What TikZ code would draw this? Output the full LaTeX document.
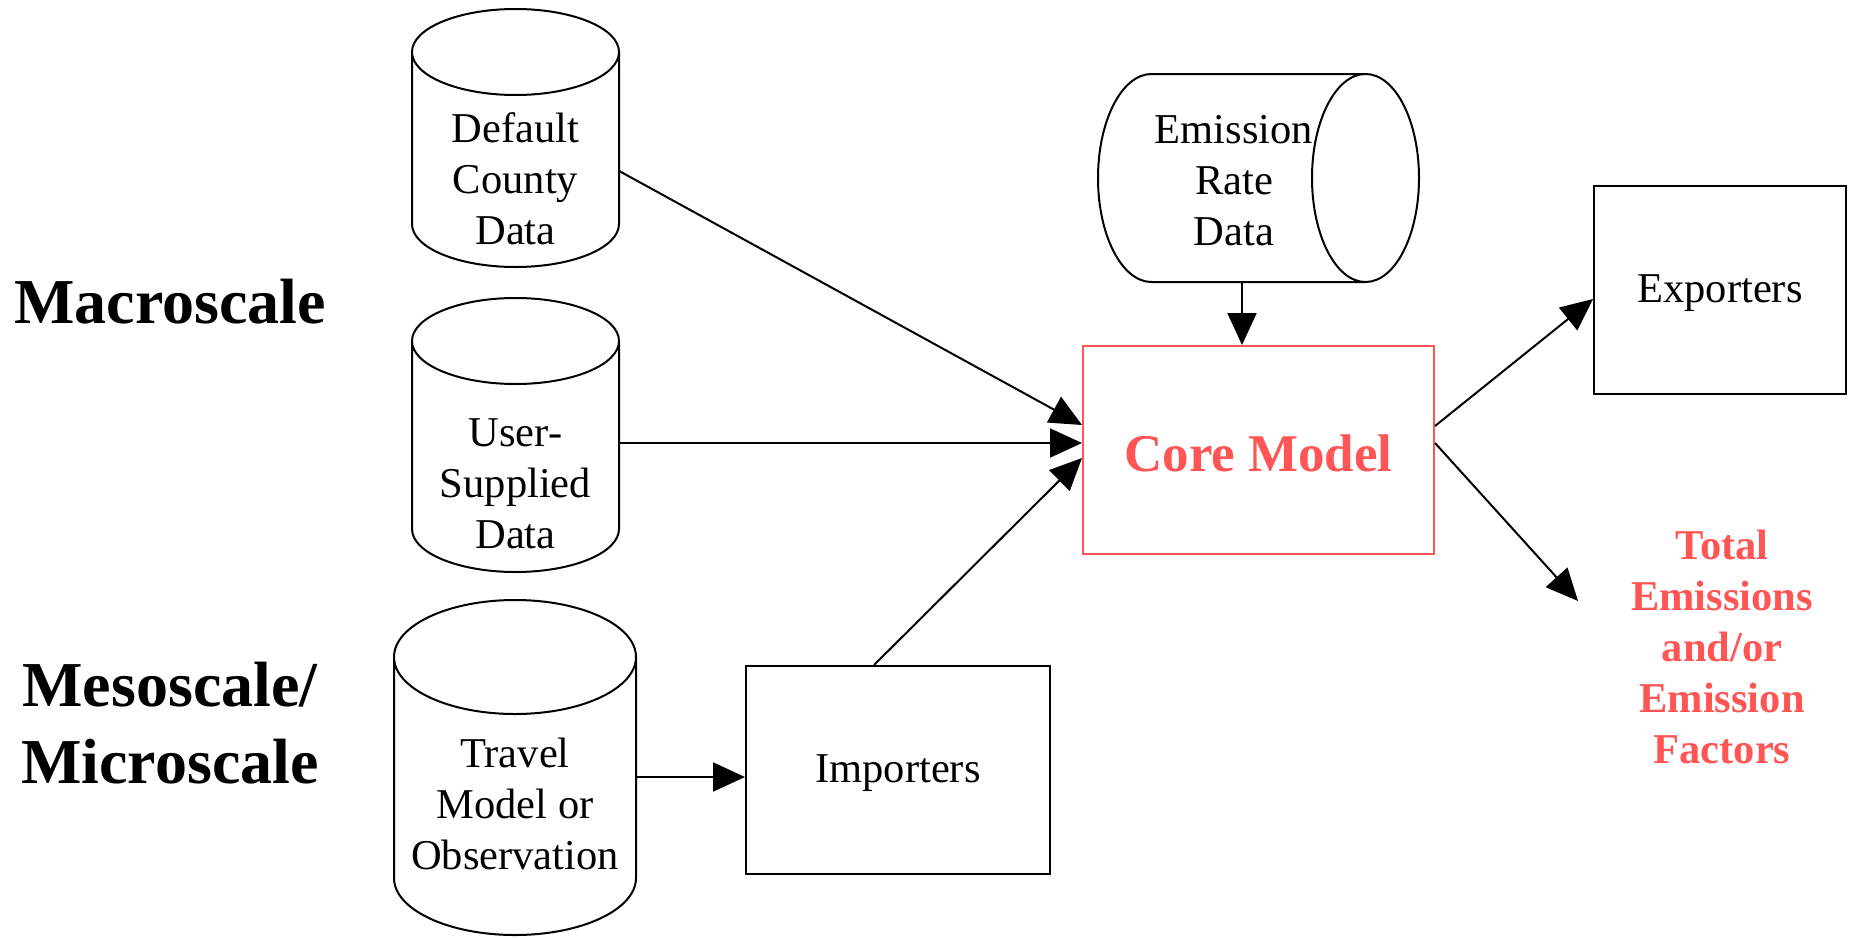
\documentclass[tikz,border=0pt]{standalone}
\usepackage{fontspec}
\setmainfont{Liberation Serif}
\usetikzlibrary{arrows.meta,calc}
\definecolor{corered}{RGB}{255,85,85}

% vertical data store: left, top, right, bottom, radius of the end ellipses
\newcommand\vcyl[5]{%
  \pgfmathsetmacro\cylcx{(#1+#3)/2}%
  \pgfmathsetmacro\cylrx{(#3-#1)/2}%
  \draw[outline] (\cylcx,{#2+#5}) ellipse [x radius=\cylrx pt, y radius=#5pt]
    (#1,{#2+#5}) -- (#1,{#4-#5})
    arc[start angle=180, end angle=360, x radius=\cylrx pt, y radius=#5pt]
    -- (#3,{#2+#5});}
% horizontal data store: left, top, right, bottom, radius of the end ellipses
\newcommand\hcyl[5]{%
  \pgfmathsetmacro\cylcy{(#2+#4)/2}%
  \pgfmathsetmacro\cylry{(#4-#2)/2}%
  \draw[outline] ({#3-#5},\cylcy) ellipse [x radius=#5pt, y radius=\cylry pt]
    ({#3-#5},#2) -- ({#1+#5},#2)
    arc[start angle=90, end angle=270, x radius=#5pt, y radius=\cylry pt]
    -- ({#3-#5},#4);}
% lower a label without changing its box
\newcommand\lowered[2]{\raisebox{-#1}[\height][\depth]{#2}}

\tikzset{
  outline/.style={line width=2pt, draw=black},
  slot/.style={draw=none, rectangle, inner sep=0pt},
  procbox/.style={draw, line width=2pt, rectangle, inner sep=0pt,
    minimum width=#1, minimum height=208pt, align=center,
    font=\fontsize{42.5}{51}\selectfont},
  arr/.style={line width=2pt, -{Triangle[length=32pt,width=29pt]}},
  lbl/.style={align=center, font=\fontsize{42.5}{51}\selectfont},
  scalelbl/.style={align=center, font=\bfseries\fontsize{64}{77}\selectfont},
}

\begin{document}
\begin{tikzpicture}[x=1pt,y=-1pt]
\useasboundingbox (0,0) rectangle (1852,937);

% scale labels
\node[scalelbl] (macro) at (170,302) {Macroscale};
\node[scalelbl] (meso) at (170,723) {Mesoscale/\\Microscale};

% data stores
\node[slot, minimum width=207pt, minimum height=258pt] (dcd) at (515.5,138) {};
\vcyl{412}{9}{619}{267}{43}
\node[lbl] (dcdt) at (515.5,179) {Default\\County\\Data};

\node[slot, minimum width=207pt, minimum height=274pt] (usd) at (515.5,435) {};
\vcyl{412}{298}{619}{572}{43}
\node[lbl] (usdt) at (515.5,484) {User-\\Supplied\\Data};

\node[slot, minimum width=242pt, minimum height=335pt] (tmo) at (515,767.5) {};
\vcyl{394}{600}{636}{935}{57}
\node[lbl] (tmot) at (515,804) {Travel\\Model or\\Observation};

\node[slot, minimum width=321pt, minimum height=208pt] (erd) at (1258.5,178) {};
\hcyl{1098}{74}{1419}{282}{53.5}
\node[lbl] (erdt) at (1234,180.5) {Emission\\Rate\\Data};

% processing boxes
\node[procbox=351pt, draw=corered, text=corered,
      font=\bfseries\fontsize{53}{60}\selectfont] (core) at (1258.5,450)
      {\lowered{3pt}{Core Model}};
\node[procbox=304pt] (imp) at (898,770) {\lowered{3.5pt}{Importers}};
\node[procbox=252pt] (exp) at (1720,290) {\lowered{3.5pt}{Exporters}};

% outputs
\node[align=center, text=corered, font=\bfseries\fontsize{42.5}{51}\selectfont]
  (tot) at (1722,647) {Total\\Emissions\\and/or\\Emission\\Factors};
\coordinate (totin) at (1578,601);

% connectors
\draw[arr] ([yshift=-33pt]dcd.east) -- ([yshift=25pt]core.west);
\draw[arr] ([yshift=-8pt]usd.east) -- ([yshift=-8pt]usd.east -| core.west);
\draw[arr] ([xshift=-24pt]imp.north) -- ([yshift=-8pt]core.west);
\draw[arr] ([yshift=-9.5pt]tmo.east) -- ([yshift=-9.5pt]tmo.east -| imp.west);
\draw[arr] ([xshift=-16.5pt]erd.south) -- ([xshift=-16.5pt]erd.south |- core.north);
\draw[arr] ([yshift=24pt]core.east) -- ([yshift=-9pt]exp.west);
\draw[arr] ([yshift=7pt]core.east) -- (totin);
\end{tikzpicture}
\end{document}
